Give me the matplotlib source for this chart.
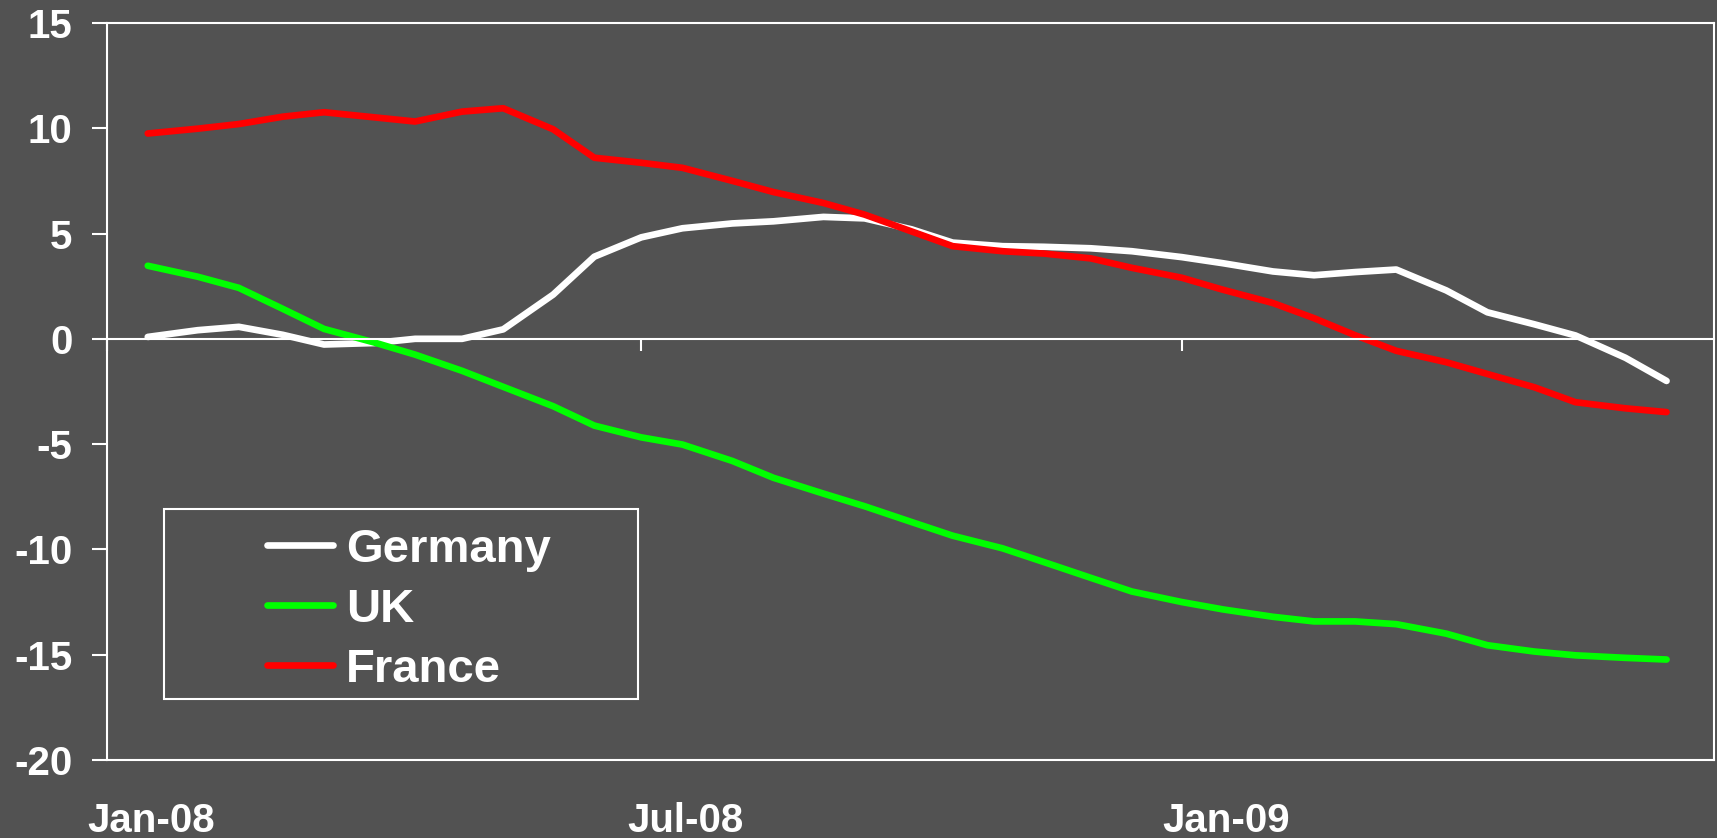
import matplotlib
matplotlib.use('Agg')
import matplotlib.pyplot as plt
import matplotlib.dates as mdates
from matplotlib.patches import Rectangle
import pandas as pd

# semi-monthly observations, mid Jan 2008 .. mid Jun 2009
dates = pd.date_range('2008-01-15', '2009-06-15', freq='SMS')

germany = [0.09, 0.41, 0.57, 0.19, -0.27, -0.20, 0.00, 0.00, 0.45, 2.10,
           3.90, 4.82, 5.25, 5.48, 5.58, 5.79, 5.72, 5.20, 4.57, 4.40,
           4.37, 4.30, 4.16, 3.88, 3.59, 3.20, 3.02, 3.17, 3.29, 2.30,
           1.26, 0.69, 0.16, -0.90, -2.00]
uk = [3.47, 2.95, 2.42, 1.42, 0.47, -0.17, -0.75, -1.52, -2.28, -3.20,
      -4.12, -4.68, -5.02, -5.80, -6.60, -7.35, -7.95, -8.70, -9.35, -9.95,
      -10.60, -11.35, -12.00, -12.50, -12.85, -13.20, -13.42, -13.42, -13.55, -14.00,
      -14.55, -14.85, -15.03, -15.15, -15.23]
france = [9.75, 9.98, 10.20, 10.55, 10.76, 10.52, 10.32, 10.79, 10.95, 9.95,
          8.60, 8.36, 8.12, 7.50, 6.97, 6.45, 5.90, 5.10, 4.40, 4.16,
          4.05, 3.82, 3.37, 2.90, 2.33, 1.70, 0.98, 0.17, -0.57, -1.11,
          -1.67, -2.30, -3.01, -3.30, -3.48]

series_names = ['Germany', 'UK', 'France']
series_colors = ['#FFFFFF', '#00FF00', '#FF0000']

yticks = [-20, -15, -10, -5, 0, 5, 10, 15]
ytick_labels = ['-20', '-15', '-10', '-5', '0', '5', '10', '15']
xtick_dates = ['2008-01-01', '2008-07-01', '2009-01-01']
xlabel_dates = ['2008-01-16', '2008-07-16', '2009-01-16']
xtick_labels = ['Jan-08', 'Jul-08', 'Jan-09']

BG = '#525252'
plt.rcParams['font.family'] = ['Liberation Sans', 'DejaVu Sans']
plt.rcParams['font.weight'] = 'bold'
plt.rcParams['axes.unicode_minus'] = False

fig = plt.figure(figsize=(17.17, 8.38), dpi=100, facecolor=BG)
ax = fig.add_axes([0.0621, 0.0931, 0.9359, 0.8795])
ax.set_facecolor(BG)

lines = []
for vals, name, col in zip([germany, uk, france], series_names, series_colors):
    ln, = ax.plot(dates, vals, color=col, lw=4.8, label=name,
                  solid_joinstyle='round', solid_capstyle='round')
    lines.append(ln)

ax.set_ylim(-20, 15)
ax.set_xlim(pd.Timestamp('2008-01-01'), pd.Timestamp('2009-07-01'))
ax.set_yticks(yticks)
ax.set_yticklabels(ytick_labels)
ax.tick_params(axis='y', direction='out', length=10.5, width=1.5, color='white',
               pad=14, labelsize=29, labelcolor='white')

# category axis crosses at zero, labels sit below the plot
ax.spines['bottom'].set_position(('data', 0))
ax.set_xticks(mdates.date2num(pd.to_datetime(xtick_dates)))
ax.tick_params(axis='x', direction='out', length=8.6, width=1.5, color='white',
               labelbottom=False)
for s in ['left', 'right', 'top', 'bottom']:
    ax.spines[s].set_color('white')
    ax.spines[s].set_linewidth(1.5)

sec = ax.secondary_xaxis('bottom')
sec.set_xticks(mdates.date2num(pd.to_datetime(xlabel_dates)))
sec.set_xticklabels(xtick_labels)
sec.tick_params(length=0, pad=30, labelsize=29, labelcolor='white')
sec.spines['bottom'].set_color('white')
sec.spines['bottom'].set_linewidth(1.5)

# legend box
ax.add_patch(Rectangle((0.0357, 0.0828), 0.2949, 0.2578, transform=ax.transAxes,
                       facecolor=BG, edgecolor='white', lw=1.5, zorder=4))
leg = ax.legend(handles=lines, loc='upper left', bbox_to_anchor=(0.0848, 0.347),
                frameon=False, borderpad=0, fontsize=34, handlelength=1.41,
                handletextpad=0.28, labelspacing=0.34, labelcolor='white')
leg.set_zorder(5)

fig.savefig('out.png', dpi=100, facecolor=BG)
